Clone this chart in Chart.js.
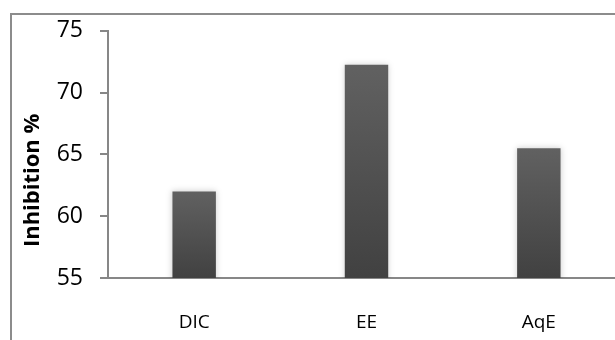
<!DOCTYPE html>
<html>
<head>
<meta charset="utf-8">
<script src="https://cdn.jsdelivr.net/npm/chart.js@4"></script>
<style>
  html, body { margin: 0; padding: 0; background: #fff; overflow: hidden; }
  #wrap { width: 615px; height: 340px; overflow: hidden; }
  canvas { display: block; }
</style>
</head>
<body>
<div id="wrap"><canvas id="c" width="660" height="340"></canvas></div>
<script>
// Extracts and their inhibition
const categories = ['DIC', 'EE', 'AqE'];
const inhibition = [62.0, 72.25, 65.5];
const yTicks = [55, 60, 65, 70, 75];
const yTitle = 'Inhibition %';

const FONT = '"Open Sans", sans-serif';
const AXIS = '#878787';

// Outer frame around the whole chart
const framePlugin = {
  id: 'frame',
  beforeDraw(chart) {
    const ctx = chart.ctx;
    ctx.save();
    ctx.fillStyle = '#fff';
    ctx.fillRect(0, 0, chart.width, chart.height);
    ctx.strokeStyle = '#8c8c8c';
    ctx.lineWidth = 2;
    ctx.strokeRect(11, 14, 800, 500);
    ctx.restore();
  }
};

// Soft halo around each bar
const glowPlugin = {
  id: 'glow',
  beforeDatasetDraw(chart) {
    const ctx = chart.ctx;
    ctx.save();
    ctx.shadowColor = 'rgba(0,0,0,0.2)';
    ctx.shadowBlur = 6;
    ctx.shadowOffsetX = 0;
    ctx.shadowOffsetY = 0;
  },
  afterDatasetDraw(chart) {
    chart.ctx.restore();
  }
};

// Vertical axis title, set a little below the plot's middle
const yTitlePlugin = {
  id: 'yTitle',
  afterDraw(chart) {
    const ctx = chart.ctx;
    const area = chart.chartArea;
    ctx.save();
    ctx.translate(33, (area.top + area.bottom) / 2 + 26);
    ctx.rotate(-Math.PI / 2);
    ctx.fillStyle = '#000';
    ctx.font = 'bold 22px ' + FONT;
    ctx.textAlign = 'center';
    ctx.textBaseline = 'middle';
    ctx.fillText(yTitle, 0, 0);
    ctx.restore();
  }
};

function barFill(context) {
  const chart = context.chart;
  const y = chart.scales.y;
  if (!y || !chart.chartArea) return '#555';
  const top = y.getPixelForValue(context.raw);
  const bottom = y.getPixelForValue(y.min);
  const g = chart.ctx.createLinearGradient(0, top, 0, bottom);
  g.addColorStop(0, '#616161');
  g.addColorStop(1, '#414141');
  return g;
}

function draw() {
  new Chart(document.getElementById('c'), {
    type: 'bar',
    data: {
      labels: categories,
      datasets: [{
        data: inhibition,
        backgroundColor: barFill,
        borderWidth: 0,
        categoryPercentage: 1,
        barPercentage: 0.252
      }]
    },
    options: {
      responsive: false,
      animation: false,
      events: [],
      layout: { padding: { left: 0, top: 29, right: 35, bottom: 0 } },
      plugins: { legend: { display: false }, tooltip: { enabled: false } },
      scales: {
        x: {
          grid: { display: true, drawOnChartArea: false, drawTicks: false },
          border: { display: true, color: AXIS, width: 2 },
          ticks: { color: '#000', font: { family: FONT, size: 19 }, padding: 33 },
          afterFit(scale) { scale.height = 62; }
        },
        y: {
          min: 55,
          max: 75,
          afterBuildTicks(scale) { scale.ticks = yTicks.map(v => ({ value: v })); },
          grid: { display: true, drawOnChartArea: false, tickLength: 8, color: AXIS, lineWidth: 2 },
          border: { display: true, color: AXIS, width: 2 },
          ticks: { color: '#000', font: { family: FONT, size: 23 }, padding: 17 },
          afterFit(scale) { scale.width = 108; }
        }
      }
    },
    plugins: [framePlugin, glowPlugin, yTitlePlugin]
  });
}

Promise.all([
  document.fonts.load('23px "Open Sans"'),
  document.fonts.load('bold 22px "Open Sans"')
]).then(draw, draw);
</script>
</body>
</html>
